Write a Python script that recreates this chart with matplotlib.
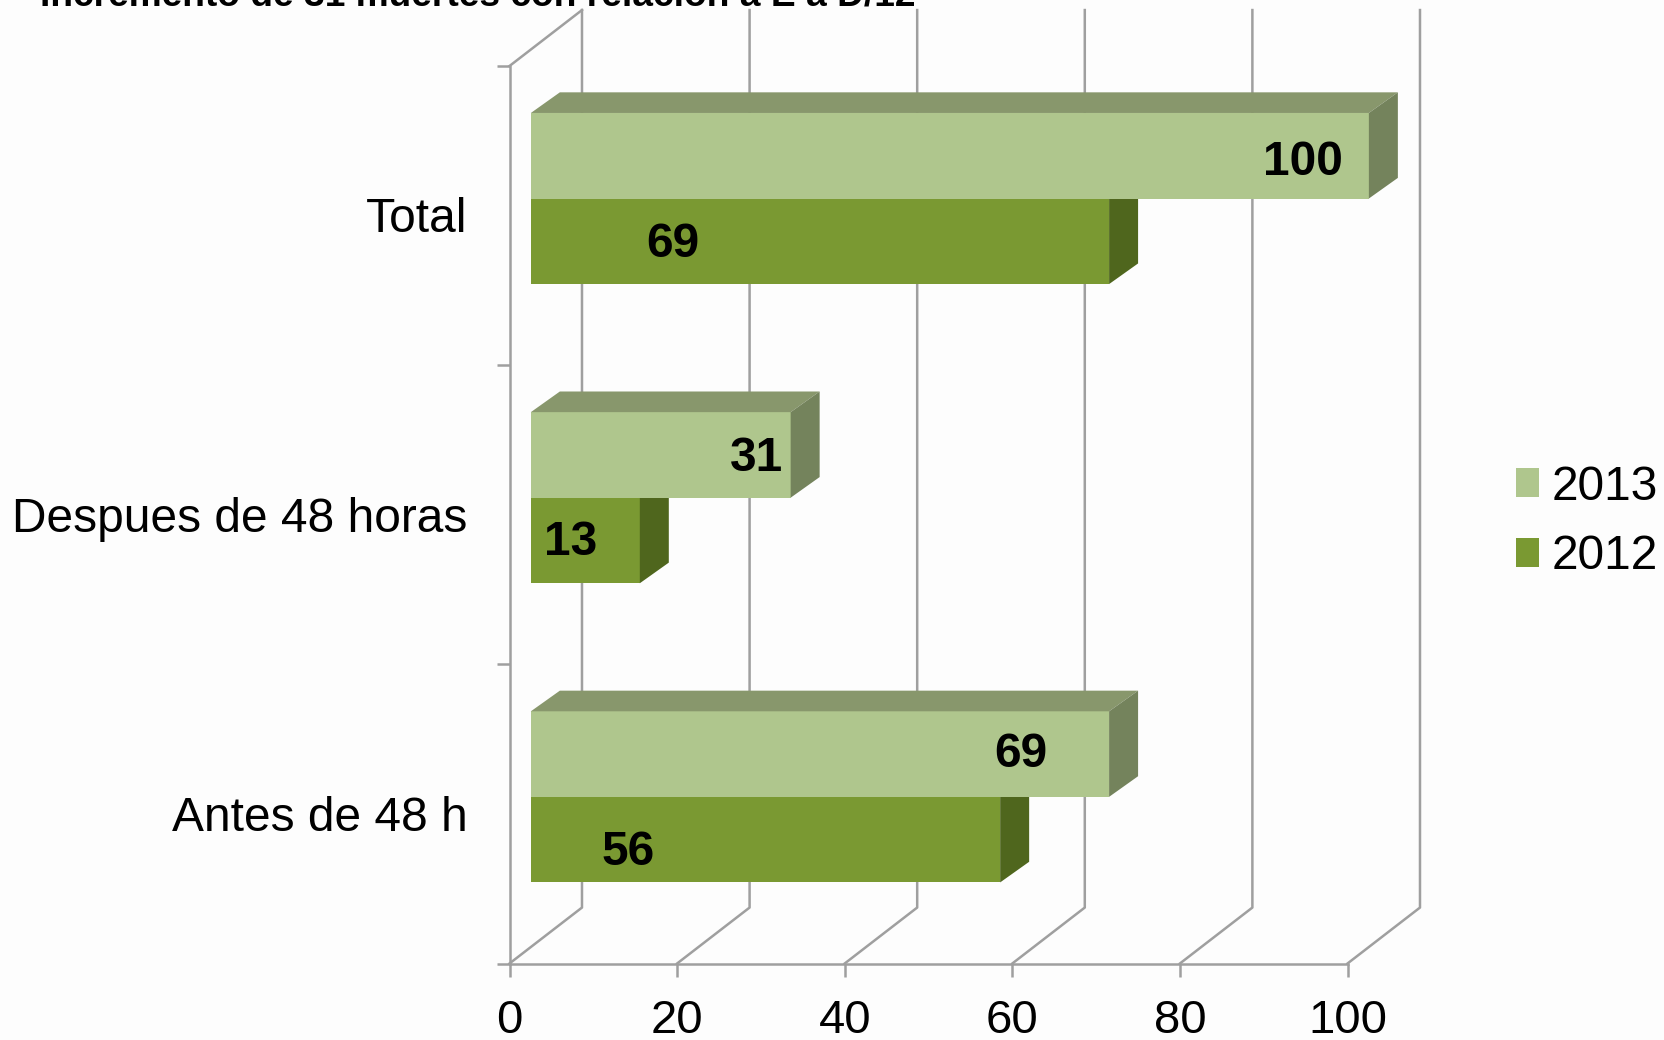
import numpy as np
import matplotlib
matplotlib.use('Agg')
import matplotlib.pyplot as plt
from matplotlib.patches import Polygon

plt.rcParams['font.family'] = ['Liberation Sans', 'DejaVu Sans']

# data
categories = ['Antes de 48 h', 'Despues de 48 horas', 'Total']
values_2013 = [69, 31, 100]
values_2012 = [56, 13, 69]
title = 'Incremento de 31 muertes con relación a E a D/12'
xticks = [0, 20, 40, 60, 80, 100]

# label anchors in data units (x, y), picked by eye
anchors_2013 = [(61.0, 0.198), (29.5, 1.188), (94.7, 2.178)]
anchors_2012 = [(14.2, -0.129), (7.3, 0.907), (19.5, 1.903)]

# colours
col_2013 = '#afc68d'
col_2013_top = '#88976c'
col_2013_side = '#74835c'
col_2012 = '#7a9932'
col_2012_top = '#64802a'
col_2012_side = '#4f661d'
col_grid = '#9f9f9f'
col_bg = '#fdfdfd'

# plot properties
fontsize_tick = 34
fontsize_cat = 34.5
fontsize_label = 34.5
linewidth = 1.8

# 3d look, in data units
wall_dx = 8.65
wall_dy = 0.187
bar_x0 = 2.55
bar_dx = 3.46
bar_dy = 0.069
bar_h = 0.286
bar_shift = 0.057
cat_shift = 0.002

fig = plt.figure(figsize=(16.64, 10.40), dpi=100, facecolor=col_bg)
ax = fig.add_axes([509.5 / 1664, 1 - 963.5 / 1040, 838 / 1664, 897.5 / 1040])
ax.set_facecolor('none')
ax.set_xlim(0, 100)
ax.set_ylim(-0.5, 2.5)

# walls
for x in xticks:
    ax.plot([x, x + wall_dx, x + wall_dx], [-0.5, -0.5 + wall_dy, 2.5 + wall_dy], color=col_grid,
            linewidth=linewidth, clip_on=False, zorder=1)
ax.plot([0, wall_dx], [2.5, 2.5 + wall_dy], color=col_grid, linewidth=linewidth, clip_on=False, zorder=1)


def draw_bars(values, offset, col, col_top, col_side, zorder):
    ys = np.arange(len(values)) + bar_shift + offset
    bars = ax.barh(ys, values, left=bar_x0, height=bar_h, color=col, zorder=zorder, clip_on=False)
    for y, v in zip(ys, values):
        x1 = bar_x0 + v
        top = y + bar_h / 2
        bot = y - bar_h / 2
        ax.add_patch(Polygon([(bar_x0, top), (x1, top), (x1 + bar_dx, top + bar_dy), (bar_x0 + bar_dx, top + bar_dy)],
                             facecolor=col_top, edgecolor='none', zorder=zorder, clip_on=False))
        ax.add_patch(Polygon([(x1, bot), (x1 + bar_dx, bot + bar_dy), (x1 + bar_dx, top + bar_dy), (x1, top)],
                             facecolor=col_side, edgecolor='none', zorder=zorder, clip_on=False))
    return bars


# 2013 goes over 2012 so it covers the top face of the lower row
bars_2012 = draw_bars(values_2012, -bar_h / 2, col_2012, col_2012_top, col_2012_side, 3)
bars_2013 = draw_bars(values_2013, bar_h / 2, col_2013, col_2013_top, col_2013_side, 4)

for (x, y), v in zip(anchors_2013 + anchors_2012, values_2013 + values_2012):
    ax.text(x, y, str(v), fontsize=fontsize_label, fontweight='bold', ha='center', va='center', color='k', zorder=5)

# axes
for s in ['top', 'right']:
    ax.spines[s].set_visible(False)
for s in ['left', 'bottom']:
    ax.spines[s].set_color(col_grid)
    ax.spines[s].set_linewidth(linewidth)
    ax.spines[s].set_zorder(2)
ax.set_xticks(xticks)
ax.tick_params(axis='x', labelsize=fontsize_tick, length=9.5, width=linewidth, color=col_grid, pad=16)
ax.set_yticks([-0.5, 0.5, 1.5, 2.5])
ax.set_yticklabels([])
ax.tick_params(axis='y', which='major', length=9.5, width=linewidth, color=col_grid)
ax.set_yticks(np.arange(len(categories)) + cat_shift, minor=True)
ax.set_yticklabels(categories, minor=True)
ax.tick_params(axis='y', which='minor', length=0, labelsize=fontsize_cat, pad=30)

fig.text(40 / 1664, 1 - 6 / 1040, title, fontsize=26.7, fontweight='bold', ha='left', va='baseline')

handles = [bars_2013, bars_2012]
fig.legend(handles, ['2013', '2012'], loc='center left', bbox_to_anchor=(1516 / 1664, 1 - 522 / 1040), frameon=False,
           fontsize=34.5, handlelength=0.48, handleheight=0.53, handletextpad=0.27, labelspacing=0.52,
           borderpad=0, borderaxespad=0)

fig.savefig('out.png', dpi=100, facecolor=col_bg)
